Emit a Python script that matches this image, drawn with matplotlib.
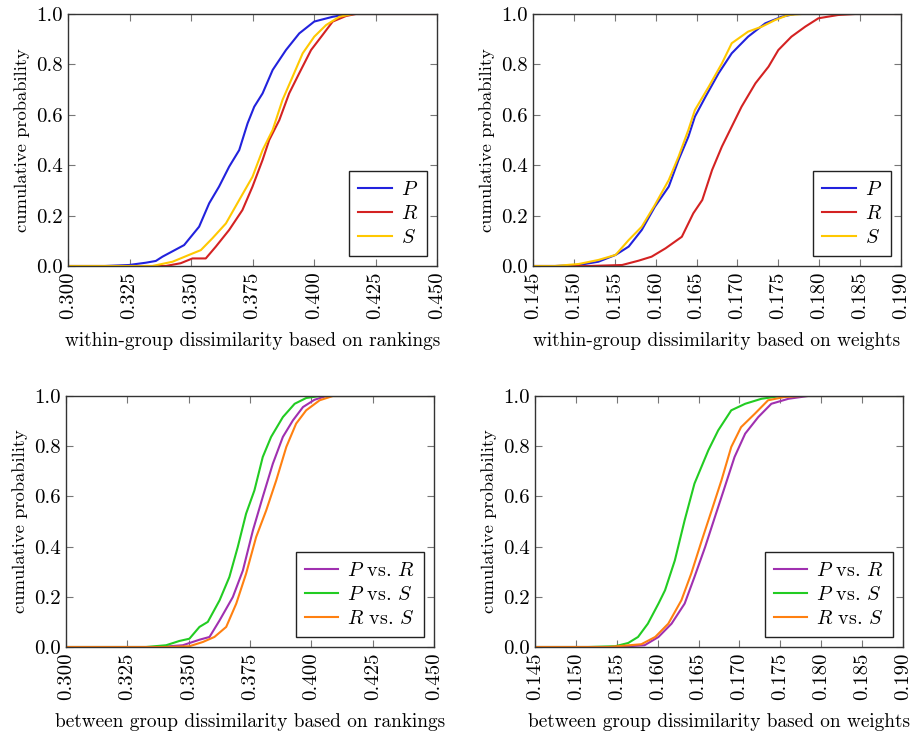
import matplotlib
matplotlib.use("Agg")
import matplotlib.pyplot as plt
import numpy as np

plt.rcParams['font.family'] = ['cmr10', 'DejaVu Serif']
plt.rcParams['mathtext.fontset'] = 'cm'
plt.rcParams['axes.formatter.use_mathtext'] = True

# ---------------- data ----------------
# within-group, rankings
wr_P_x = [0.3150, 0.3248, 0.3316, 0.3357, 0.3384, 0.3472, 0.3533, 0.3574, 0.3614, 0.3655, 0.3696, 0.3730, 0.3757, 0.3791, 0.3832, 0.3886, 0.3940, 0.4001, 0.4076, 0.4143]
wr_P_y = [0.000, 0.004, 0.013, 0.020, 0.037, 0.083, 0.156, 0.249, 0.315, 0.394, 0.460, 0.566, 0.632, 0.685, 0.778, 0.857, 0.923, 0.970, 0.989, 1.000]
wr_R_x = [0.3397, 0.3458, 0.3506, 0.3560, 0.3601, 0.3655, 0.3709, 0.3750, 0.3791, 0.3818, 0.3859, 0.3899, 0.3940, 0.3988, 0.4035, 0.4076, 0.4130, 0.4170]
wr_R_y = [0.000, 0.011, 0.030, 0.030, 0.077, 0.143, 0.222, 0.315, 0.421, 0.500, 0.579, 0.685, 0.765, 0.857, 0.917, 0.970, 0.992, 1.000]
wr_S_x = [0.3343, 0.3425, 0.3492, 0.3540, 0.3587, 0.3642, 0.3696, 0.3750, 0.3791, 0.3832, 0.3872, 0.3913, 0.3954, 0.4001, 0.4049, 0.4103, 0.4157]
wr_S_y = [0.000, 0.017, 0.044, 0.063, 0.110, 0.169, 0.262, 0.354, 0.460, 0.540, 0.659, 0.751, 0.844, 0.910, 0.956, 0.989, 1.000]

# within-group, weights
ww_P_x = [0.1477, 0.1506, 0.1530, 0.1551, 0.1567, 0.1583, 0.1599, 0.1616, 0.1628, 0.1640, 0.1648, 0.1661, 0.1677, 0.1693, 0.1713, 0.1734, 0.1754, 0.1770]
ww_P_y = [0.000, 0.004, 0.017, 0.044, 0.077, 0.143, 0.235, 0.315, 0.421, 0.513, 0.593, 0.672, 0.765, 0.844, 0.910, 0.963, 0.989, 1.000]
ww_R_x = [0.1518, 0.1559, 0.1579, 0.1595, 0.1612, 0.1632, 0.1646, 0.1657, 0.1669, 0.1681, 0.1693, 0.1705, 0.1722, 0.1738, 0.1750, 0.1766, 0.1783, 0.1799, 0.1823, 0.1844]
ww_R_y = [0.000, 0.004, 0.021, 0.037, 0.070, 0.116, 0.209, 0.262, 0.381, 0.474, 0.553, 0.632, 0.725, 0.791, 0.857, 0.910, 0.950, 0.983, 0.996, 1.000]
ww_S_x = [0.1477, 0.1506, 0.1530, 0.1551, 0.1567, 0.1583, 0.1599, 0.1616, 0.1628, 0.1640, 0.1648, 0.1665, 0.1681, 0.1693, 0.1713, 0.1730, 0.1746, 0.1762, 0.1779]
ww_S_y = [0.000, 0.008, 0.024, 0.044, 0.103, 0.156, 0.242, 0.341, 0.434, 0.540, 0.619, 0.712, 0.804, 0.884, 0.930, 0.950, 0.976, 0.996, 1.000]

# between-group, rankings
br_PR_x = [0.3381, 0.3476, 0.3544, 0.3585, 0.3626, 0.3680, 0.3721, 0.3762, 0.3802, 0.3843, 0.3884, 0.3925, 0.3966, 0.4013, 0.4061]
br_PR_y = [0.000, 0.007, 0.029, 0.040, 0.106, 0.199, 0.305, 0.465, 0.598, 0.730, 0.837, 0.903, 0.956, 0.985, 1.000]
br_PS_x = [0.3326, 0.3408, 0.3462, 0.3503, 0.3544, 0.3578, 0.3626, 0.3666, 0.3700, 0.3734, 0.3768, 0.3802, 0.3836, 0.3884, 0.3932, 0.3979, 0.4034]
br_PS_y = [0.000, 0.007, 0.024, 0.033, 0.080, 0.100, 0.186, 0.279, 0.398, 0.531, 0.624, 0.757, 0.837, 0.916, 0.969, 0.992, 1.000]
br_RS_x = [0.3408, 0.3503, 0.3558, 0.3605, 0.3653, 0.3694, 0.3734, 0.3775, 0.3816, 0.3857, 0.3898, 0.3938, 0.3979, 0.4034, 0.4088]
br_RS_y = [0.000, 0.003, 0.020, 0.040, 0.080, 0.173, 0.292, 0.438, 0.544, 0.664, 0.797, 0.890, 0.943, 0.983, 1.000]

# between-group, weights
bw_PR_x = [0.1548, 0.1584, 0.1601, 0.1617, 0.1633, 0.1645, 0.1658, 0.1670, 0.1682, 0.1694, 0.1707, 0.1723, 0.1739, 0.1760, 0.1784]
bw_PR_y = [0.000, 0.007, 0.040, 0.093, 0.173, 0.279, 0.398, 0.518, 0.637, 0.757, 0.850, 0.916, 0.969, 0.989, 1.000]
bw_PS_x = [0.1515, 0.1548, 0.1564, 0.1576, 0.1588, 0.1601, 0.1609, 0.1621, 0.1633, 0.1645, 0.1662, 0.1674, 0.1690, 0.1707, 0.1727, 0.1751]
bw_PS_y = [0.000, 0.003, 0.016, 0.040, 0.093, 0.173, 0.226, 0.345, 0.505, 0.651, 0.784, 0.863, 0.943, 0.969, 0.989, 1.000]
bw_RS_x = [0.1540, 0.1580, 0.1597, 0.1613, 0.1629, 0.1641, 0.1654, 0.1666, 0.1678, 0.1690, 0.1702, 0.1719, 0.1735, 0.1755, 0.1776]
bw_RS_y = [0.000, 0.011, 0.040, 0.093, 0.186, 0.292, 0.425, 0.544, 0.664, 0.797, 0.876, 0.930, 0.983, 0.996, 1.000]

rank_ticks = ["0.300", "0.325", "0.350", "0.375", "0.400", "0.425", "0.450"]
weight_ticks = ["0.145", "0.150", "0.155", "0.160", "0.165", "0.170", "0.175", "0.180", "0.185", "0.190"]
y_ticks = ["0.0", "0.2", "0.4", "0.6", "0.8", "1.0"]

xlabels = ["within-group dissimilarity based on rankings",
           "within-group dissimilarity based on weights",
           "between group dissimilarity based on rankings",
           "between group dissimilarity based on weights"]
ylabel = "cumulative probability"

within_labels = [r"$P$", r"$R$", r"$S$"]
between_labels = [r"$P$ vs. $R$", r"$P$ vs. $S$", r"$R$ vs. $S$"]

BLUE, RED, YELLOW = "#2222dd", "#d42222", "#ffc800"
PURPLE, GREEN, ORANGE = "#a030b0", "#22cc22", "#ff8010"

# ---------------- figure ----------------
fig = plt.figure(figsize=(9.14, 7.35), dpi=100)
positions = [
    [68/914, 1-266/735, 369/914, 252/735],
    [533/914, 1-266/735, 368/914, 252/735],
    [66/914, 1-647/735, 368/914, 251/735],
    [535/914, 1-647/735, 368/914, 251/735],
]

panels = [
    (rank_ticks, [(wr_P_x, wr_P_y), (wr_R_x, wr_R_y), (wr_S_x, wr_S_y)], [BLUE, RED, YELLOW], within_labels),
    (weight_ticks, [(ww_P_x, ww_P_y), (ww_R_x, ww_R_y), (ww_S_x, ww_S_y)], [BLUE, RED, YELLOW], within_labels),
    (rank_ticks, [(br_PR_x, br_PR_y), (br_PS_x, br_PS_y), (br_RS_x, br_RS_y)], [PURPLE, GREEN, ORANGE], between_labels),
    (weight_ticks, [(bw_PR_x, bw_PR_y), (bw_PS_x, bw_PS_y), (bw_RS_x, bw_RS_y)], [PURPLE, GREEN, ORANGE], between_labels),
]

for pos, (xt, series, colors, labels), xl in zip(positions, panels, xlabels):
    ax = fig.add_axes(pos)
    xv = [float(t) for t in xt]
    xmin, xmax = xv[0], xv[-1]
    for (sx, sy), c, lab in zip(series, colors, labels):
        px = [xmin] + list(sx) + [xmax]
        py = [0.0] + list(sy) + [1.0]
        ax.plot(px, py, color=c, lw=1.5, label=lab)
    ax.set_xlim(xmin, xmax)
    ax.set_ylim(0, 1)
    ax.set_xticks(xv)
    ax.set_xticklabels(xt, rotation=90)
    yv = [float(t) for t in y_ticks]
    ax.set_yticks(yv)
    ax.set_yticklabels(y_ticks)
    ax.tick_params(direction='in', top=True, right=True, length=5, width=0.8,
                   color='#777777', labelsize=15, pad=4)
    for s in ax.spines.values():
        s.set_color('#333333')
        s.set_linewidth(1.0)
    ax.set_xlabel(xl, fontsize=13.9, labelpad=9)
    ax.set_ylabel(ylabel, fontsize=13.4, labelpad=4)
    leg = ax.legend(loc='lower right', fontsize=14.5, frameon=True, fancybox=False,
                    edgecolor='#222222', framealpha=1, handlelength=1.65,
                    borderaxespad=0.5, labelspacing=0.3, handletextpad=0.45,
                    borderpad=0.45)
    leg.get_frame().set_linewidth(1.0)

fig.savefig("out.png", dpi=100)
